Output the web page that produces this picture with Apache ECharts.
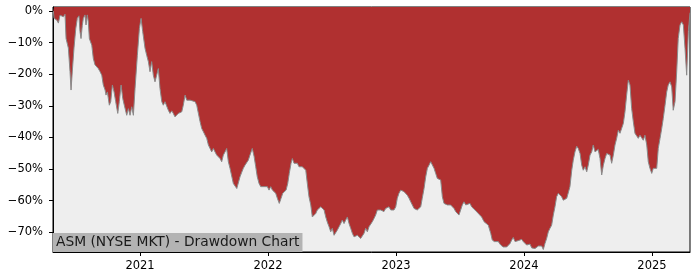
<!DOCTYPE html>
<html>
<head>
<meta charset="utf-8">
<script src="https://cdn.jsdelivr.net/npm/echarts@6/dist/echarts.min.js"></script>
<style>
html,body{margin:0;padding:0;background:#fff;}
#chart{width:700px;height:280px;}
</style>
</head>
<body>
<div id="chart"></div>
<script>
const chartTitle = 'ASM (NYSE MKT) - Drawdown Chart';
const xTicks = [2021, 2022, 2023, 2024, 2025];
const yTicks = [0, -10, -20, -30, -40, -50, -60, -70];

// decimal-year positions
const years = [
2020.323,2020.328,2020.349,2020.362,2020.375,2020.388,2020.401,2020.414,2020.422,2020.440,
2020.453,2020.461,2020.471,2020.484,2020.498,2020.510,2020.523,2020.531,2020.539,2020.549,
2020.557,2020.570,2020.578,2020.588,2020.596,2020.604,2020.623,2020.635,2020.648,2020.662,
2020.674,2020.688,2020.701,2020.713,2020.727,2020.734,2020.745,2020.760,2020.771,2020.784,
2020.797,2020.810,2020.826,2020.838,2020.852,2020.865,2020.877,2020.896,2020.909,2020.922,
2020.935,2020.948,2020.961,2020.979,2020.995,2021.008,2021.021,2021.039,2021.052,2021.065,
2021.078,2021.091,2021.104,2021.117,2021.130,2021.143,2021.156,2021.170,2021.182,2021.195,
2021.209,2021.221,2021.234,2021.248,2021.260,2021.273,2021.287,2021.299,2021.313,2021.326,
2021.338,2021.352,2021.365,2021.377,2021.391,2021.404,2021.430,2021.443,2021.455,2021.469,
2021.482,2021.495,2021.508,2021.521,2021.534,2021.547,2021.560,2021.573,2021.586,2021.599,
2021.612,2021.625,2021.638,2021.651,2021.664,2021.677,2021.690,2021.703,2021.729,2021.756,
2021.768,2021.781,2021.795,2021.807,2021.820,2021.834,2021.846,2021.859,2021.877,2021.891,
2021.904,2021.916,2021.930,2021.943,2021.955,2021.969,2021.982,2021.995,2022.008,2022.021,
2022.034,2022.047,2022.060,2022.073,2022.088,2022.102,2022.115,2022.127,2022.141,2022.154,
2022.166,2022.180,2022.190,2022.203,2022.216,2022.229,2022.242,2022.255,2022.268,2022.281,
2022.295,2022.307,2022.320,2022.334,2022.346,2022.359,2022.373,2022.385,2022.398,2022.412,
2022.424,2022.438,2022.451,2022.463,2022.477,2022.490,2022.502,2022.516,2022.529,2022.541,
2022.555,2022.568,2022.580,2022.594,2022.607,2022.620,2022.633,2022.646,2022.659,2022.672,
2022.685,2022.698,2022.711,2022.724,2022.737,2022.750,2022.763,2022.776,2022.789,2022.802,
2022.815,2022.828,2022.841,2022.854,2022.867,2022.880,2022.893,2022.906,2022.919,2022.932,
2022.945,2022.959,2022.971,2022.984,2022.998,2023.010,2023.023,2023.037,2023.049,2023.063,
2023.076,2023.088,2023.102,2023.115,2023.127,2023.141,2023.154,2023.166,2023.180,2023.193,
2023.205,2023.219,2023.232,2023.245,2023.258,2023.271,2023.284,2023.297,2023.310,2023.323,
2023.336,2023.349,2023.362,2023.375,2023.388,2023.401,2023.414,2023.427,2023.440,2023.453,
2023.466,2023.479,2023.492,2023.505,2023.518,2023.531,2023.545,2023.557,2023.578,2023.591,
2023.617,2023.643,2023.669,2023.688,2023.703,2023.721,2023.740,2023.752,2023.768,2023.781,
2023.799,2023.818,2023.838,2023.852,2023.865,2023.877,2023.891,2023.904,2023.916,2023.930,
2023.943,2023.955,2023.969,2023.982,2023.994,2024.008,2024.021,2024.034,2024.047,2024.060,
2024.073,2024.086,2024.099,2024.112,2024.125,2024.138,2024.151,2024.164,2024.177,2024.190,
2024.203,2024.216,2024.229,2024.242,2024.255,2024.268,2024.281,2024.294,2024.307,2024.320,
2024.334,2024.346,2024.359,2024.373,2024.385,2024.398,2024.412,2024.424,2024.438,2024.451,
2024.463,2024.477,2024.490,2024.502,2024.516,2024.529,2024.541,2024.555,2024.568,2024.580,
2024.594,2024.607,2024.620,2024.633,2024.646,2024.659,2024.672,2024.685,2024.698,2024.711,
2024.724,2024.737,2024.750,2024.763,2024.776,2024.789,2024.802,2024.815,2024.828,2024.841,
2024.854,2024.867,2024.880,2024.893,2024.906,2024.919,2024.932,2024.945,2024.959,2024.971,
2024.984,2024.998,2025.010,2025.023,2025.037,2025.049,2025.063,2025.076,2025.088,2025.102,
2025.115,2025.127,2025.141,2025.154,2025.166,2025.180,2025.193,2025.205,2025.219,2025.232,
2025.245,2025.258,2025.271,2025.284,2025.297
];

// drawdown in percent
const drawdown = [
0,-2.3,-2.8,-3.8,-1.3,-0.7,-1.8,-1.0,-8.7,-11.7,
-19.2,-25,-19,-11.7,-5.5,-2.3,-1.5,-6.5,-8.7,-4.5,
-2.3,-1.2,-4.4,-1.2,-3.4,-8.7,-10.8,-15,-17,-16.5,
-18.2,-19.2,-20.3,-23.4,-25,-26.6,-25.6,-29.8,-28.7,-23.4,
-25.6,-28.7,-32.4,-28.7,-23.4,-27.7,-29.8,-33,-30.9,-33,
-30.3,-33,-24.5,-14,-5.5,-2.3,-6.5,-11.8,-14,-16,
-19.2,-16,-20.3,-22.4,-22.4,-18.2,-24.5,-28.7,-29.8,-28.7,
-28.7,-31.4,-32.4,-31.6,-32.4,-33.5,-33,-32.4,-32.4,-31.9,
-29.8,-26.6,-28.2,-28.7,-28.2,-28.7,-28.7,-29.8,-30.3,-35,
-37.2,-38.2,-39.3,-40.3,-42.4,-43.5,-44.6,-43.5,-44.6,-45.6,
-45.1,-46.7,-47.7,-45.6,-44.6,-43.5,-47.7,-49.8,-54.6,-56.2,
-55.6,-52.5,-51,-49.8,-48.8,-48.8,-47.2,-45.6,-43.5,-46,
-49.3,-52.5,-54.6,-55.6,-56.2,-55.6,-55.1,-55.6,-56.7,-55.6,
-56.7,-57.2,-57.7,-59.3,-60.9,-59.3,-57.7,-57.2,-56.7,-54.6,
-51.4,-48.2,-46.7,-48.2,-48.8,-48.2,-49.3,-49.8,-49.3,-48.8,
-50.4,-54.6,-58.8,-61.4,-65.2,-65.7,-64.1,-63,-62.5,-62,
-62.5,-63,-65.2,-66.8,-68.3,-69.9,-68.8,-71,-71.5,-69.4,
-68.3,-67.3,-66.2,-67.3,-66.2,-65.2,-67.3,-68.8,-70.4,-71.5,
-71.3,-71,-71.5,-72,-72.5,-70.4,-68.8,-69.9,-68.3,-67.8,
-66.7,-65.7,-64.6,-63,-63.5,-63,-62.5,-63.5,-62.5,-63,
-62,-63,-62.5,-63,-62,-59.3,-57.7,-56.7,-56.2,-57.2,
-57.7,-58.3,-59.3,-60.4,-60.9,-62.5,-62,-63,-63.5,-62,
-59.3,-56.2,-52.5,-49.8,-48.8,-47.7,-48.2,-49.8,-51.4,-53,
-52.5,-53.5,-58.8,-60.9,-61.4,-61.4,-61.9,-61.4,-61.9,-62.5,
-63.5,-64.1,-64.6,-63,-61.4,-60.4,-61.4,-60.9,-60.9,-62,
-63,-64.1,-65.2,-66.7,-66.2,-67.8,-70.4,-72.5,-73,-73.6,
-73,-74.1,-74.7,-75.2,-74.7,-74.4,-73.6,-72.5,-71.7,-73,
-72.5,-72.7,-72.5,-72.3,-73,-73.6,-74.1,-74.7,-73.8,-75,
-74.4,-75.2,-74.7,-74.4,-74.9,-74.4,-75.5,-73.6,-72,-69.9,
-68.8,-67.8,-64.6,-62,-58.8,-57.7,-58.3,-58.8,-59.9,-60.4,
-59.3,-59.9,-55.6,-50.4,-47.2,-44.6,-42.8,-43.5,-45.1,-48.8,
-50.4,-49.3,-50.9,-48.8,-45.6,-44.6,-42.4,-44.6,-44.1,-43.8,
-46.7,-51.9,-48.8,-46.7,-45.1,-44.6,-45.6,-48.2,-45.6,-42.4,
-40.3,-37.7,-38.7,-38.2,-35.6,-31.9,-26.6,-21.9,-23.4,-30.8,
-35,-38.7,-38.7,-40.3,-39.3,-39.8,-40.9,-39.3,-42.4,-47.7,
-49.8,-51.4,-49.8,-49.8,-49.8,-43.5,-40.3,-37.2,-34,-29.8,
-25.6,-23.4,-22.4,-24,-31.4,-28.7,-19.2,-8.7,-4.4,-3.4,
-4.4,-11.8,-20.3,-6.5,-0.5
];

const chart = echarts.init(document.getElementById('chart'), null, {renderer: 'canvas'});
const font = 'DejaVu Sans';
const fmtPct = v => (v < 0 ? '\u2212' : '') + Math.abs(v) + '%';

chart.setOption({
  animation: false,
  backgroundColor: '#ffffff',
  title: {
    text: chartTitle,
    left: 53,
    top: 233,
    padding: [2, 3, 2, 3],
    backgroundColor: '#b3b3b3',
    textStyle: {fontFamily: font, fontSize: 13.8, fontWeight: 'normal', color: '#1a1a1a', lineHeight: 15},
    z: 10
  },
  grid: {
    left: 53, right: 10, top: 7, bottom: 28,
    show: true, backgroundColor: '#eeeeee', borderColor: '#000', borderWidth: 1
  },
  xAxis: {
    type: 'value',
    min: 2020.32,
    max: 2025.297,
    splitLine: {show: false},
    axisLine: {show: true, onZero: false, lineStyle: {color: '#000', width: 1}},
    axisTick: {show: true, length: 4, customValues: xTicks, lineStyle: {color: '#000'}},
    axisLabel: {customValues: xTicks, formatter: v => String(v), fontFamily: font, fontSize: 11.5, color: '#000', margin: 8}
  },
  yAxis: {
    type: 'value',
    min: -76.3,
    max: 1.3,
    splitLine: {show: false},
    axisLine: {show: true, onZero: false, lineStyle: {color: '#000', width: 1}},
    axisTick: {show: true, length: 4, customValues: yTicks, lineStyle: {color: '#000'}},
    axisLabel: {customValues: yTicks, formatter: fmtPct, fontFamily: font, fontSize: 11.5, color: '#000', margin: 10}
  },
  series: [{
    type: 'line',
    data: years.map((y, i) => [y, drawdown[i]]),
    showSymbol: false,
    smooth: false,
    lineStyle: {color: '#8a8a8a', width: 1},
    areaStyle: {color: '#b03030', opacity: 1, origin: 'end'},
    z: 2
  }]
});
</script>
</body>
</html>
